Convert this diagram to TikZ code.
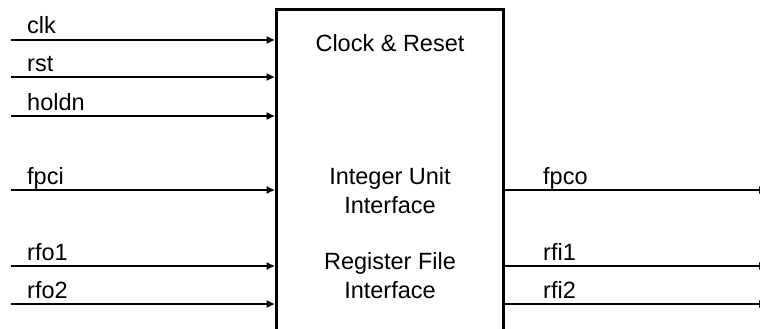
\documentclass[tikz,border=0pt]{standalone}
\usepackage{fontspec}
\setmainfont{Liberation Sans}
\usepackage{tikz}
\usetikzlibrary{arrows.meta}

\begin{document}
\begin{tikzpicture}[x=1pt,y=-1pt,
  txt/.style={font=\fontsize{23.5}{29}\selectfont,inner sep=0pt},
  lbl/.style={txt,anchor=base west},
  sig/.style={line width=2pt,-{Triangle[length=8pt,width=7pt]}},
  blk/.style={draw,line width=3pt,rectangle,minimum width=227,minimum height=340}]
\useasboundingbox (0,0) rectangle (760,329);
\node[blk] (core) at (389.5,180) {};
\node[txt,anchor=base] (clkrst) at (390,52) {Clock \& Reset};
\node[txt,anchor=base,align=center] (iuif) at (390,213) {Integer Unit\\Interface};
\node[txt,anchor=base,align=center] (rfif) at (390,298) {Register File\\Interface};
\foreach \y/\1 in %
{40/clk,77/rst,116/holdn,190/fpci,266/rfo1,304/rfo2} {
   \coordinate (\1-s) at (11,\y);
   \node[lbl] (\1) at (27,\y-6) {\1};
   \draw[sig] (\1-s) -- (\1-s -| core.west);
}
\foreach \y/\1 in %
{190/fpco,266/rfi1,304/rfi2} {
   \coordinate (\1-e) at (767,\y);
   \node[lbl] (\1) at (543,\y-6) {\1};
   \draw[sig] (\1-e -| core.east) -- (\1-e);
}
\end{tikzpicture}
\end{document}
